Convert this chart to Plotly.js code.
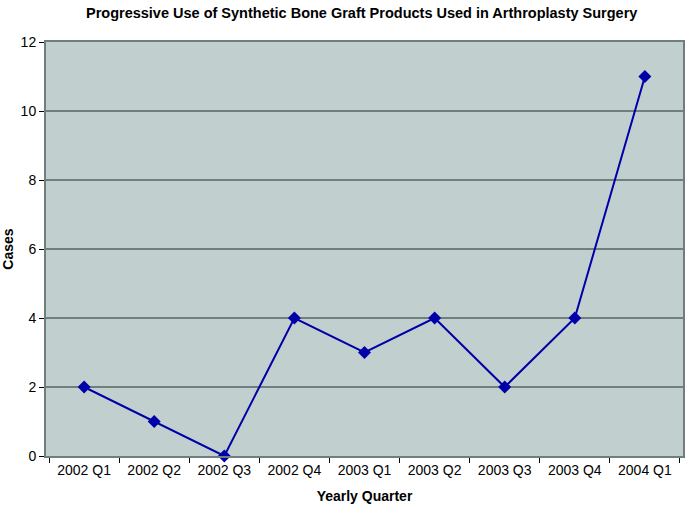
<!DOCTYPE html>
<html>
<head>
<script src="https://cdn.plot.ly/plotly-3.0.1.min.js"></script>
<style>body{margin:0;background:#fff}</style>
</head>
<body>
<div id="chart" style="width:685px;height:507px"></div>
<script>
var quarters = ['2002 Q1', '2002 Q2', '2002 Q3', '2002 Q4', '2003 Q1', '2003 Q2', '2003 Q3', '2003 Q4', '2004 Q1'];
var cases = [2, 1, 0, 4, 3, 4, 2, 4, 11];

var trace = {
  x: quarters,
  y: cases,
  type: 'scatter',
  mode: 'lines+markers',
  cliponaxis: false,
  line: { color: '#0000A8', width: 2 },
  marker: { symbol: 'diamond', size: 10, color: '#0000A8' }
};

var layout = {
  width: 685,
  height: 507,
  margin: { l: 46, r: 2, t: 42, b: 51 },
  paper_bgcolor: '#fff',
  plot_bgcolor: '#C2CFCF',
  showlegend: false,
  font: { family: 'Liberation Sans, Arial, sans-serif', size: 14, color: '#000' },
  title: {
    text: '<b>Progressive Use of Synthetic Bone Graft Products Used in Arthroplasty Surgery</b>',
    font: { size: 14.5 },
    x: 0.528, xanchor: 'center', y: 0.985, yanchor: 'top'
  },
  xaxis: {
    title: { text: '<b>Yearly Quarter</b>', font: { size: 14 }, standoff: 14 },
    type: 'category',
    tickson: 'boundaries',
    ticks: 'outside', ticklen: 5, tickcolor: '#000',
    showline: true, linecolor: '#6F7F7F', linewidth: 2, mirror: true,
    showgrid: false, zeroline: false
  },
  yaxis: {
    title: { text: '<b>Cases</b>', font: { size: 14 }, standoff: 14 },
    range: [0, 12], dtick: 2,
    ticks: 'outside', ticklen: 5, tickcolor: '#000',
    showline: true, linecolor: '#6F7F7F', linewidth: 2, mirror: true,
    gridcolor: '#6F7F7F', gridwidth: 2, zeroline: false
  }
};

Plotly.newPlot('chart', [trace], layout, { displayModeBar: false });
</script>
</body>
</html>
